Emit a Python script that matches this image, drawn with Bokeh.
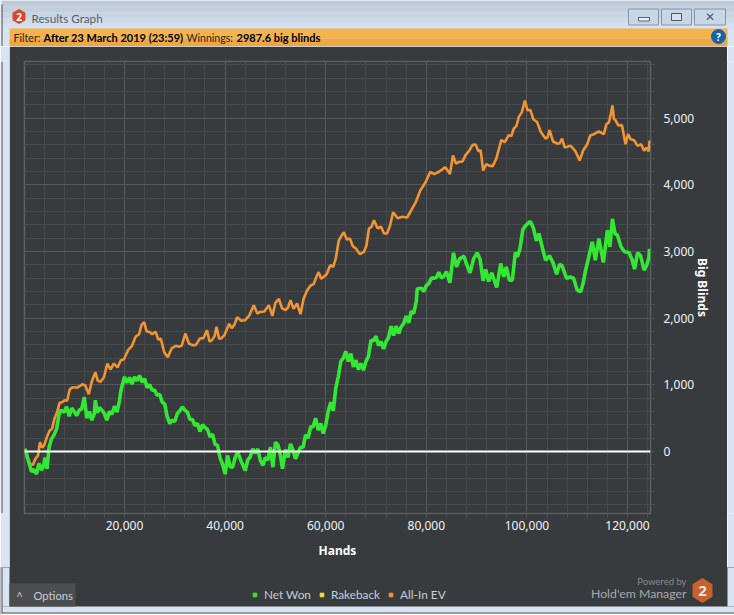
import numpy as np
from bokeh.plotting import figure
from bokeh.embed import file_html
from bokeh.resources import INLINE
from bokeh.layouts import column, row
from bokeh.core.properties import value
from bokeh.models import Span, Legend, LegendItem, NumeralTickFormatter, FixedTicker, Range1d

# ---- data ----
net_won_k = [0.2,0.6,1,1.5,2,2.5,3,3.5,3.9,4.2,4.6,5,5.5,6,6.5,7,7.4,8,8.5,9,9.5,10,10.5,11,11.5,12,12.5,13,13.5,14,14.2,14.6,15,15.5,16,16.5,17,17.5,18,18.5,19,19.3,20,20.5,21,21.5,22,22.5,23,23.5,24,24.5,25,25.5,26,26.5,27,27.5,28,28.5,29,29.4,30,30.5,31,31.5,32,32.5,33,33.5,34,34.5,35,35.5,36,36.5,37,37.5,38,38.5,39,39.5,40,40.5,41,41.5,42,42.5,43,43.5,44,44.5,45,45.5,46,46.5,47,47.5,48,48.5,49,49.5,50,50.5,51,51.4,52,52.5,53,53.5,54,54.5,55,55.5,56,56.5,57,57.5,58,58.5,59,59.5,60,60.5,61,61.5,62,62.5,63,63.5,64,64.5,65,65.5,66,66.5,67,67.5,68,68.5,69,69.5,70,70.5,71,71.5,72,72.5,73,73.5,74,74.5,75,75.5,76,76.5,77,77.5,78,78.2,79,79.5,80,80.5,81,81.5,82,82.5,83,83.5,84,84.7,85.4,86,86.6,87.5,88,88.7,89.4,90.1,90.7,91.3,91.8,92.4,93,94,94.8,95.4,95.9,96.5,97.1,97.7,98.1,98.6,99.2,99.7,100.2,100.7,101.3,101.9,102.4,102.9,103.7,104.5,105.2,105.9,106.5,107,107.9,108.6,109.3,110,110.7,111.2,111.6,112.3,113,113.6,114.3,115.2,116,116.5,117,117.5,118,118.7,119.4,120.3,120.9,121.4,122,122.6,123.3,123.8,124.2,124.4]
net_won_values = [40,-60,-170,-300,-270,-340,-180,-280,-210,-90,-260,60,190,250,340,560,620,590,670,530,650,600,540,620,640,815,500,600,470,570,770,580,660,620,570,470,600,560,680,590,760,920,1120,1030,1110,1010,1120,1060,1140,1040,1090,960,1000,920,920,840,860,740,710,520,420,470,450,570,610,670,620,590,480,480,390,420,300,400,360,330,220,260,110,90,-100,-190,-340,-60,-230,-235,-90,-10,-110,-200,-285,-130,-80,40,-30,40,-130,-210,-90,-130,65,-235,140,100,-60,-260,30,-90,115,20,-110,-20,65,60,250,200,370,370,500,320,420,270,390,600,740,610,950,1120,1350,1400,1500,1350,1470,1270,1370,1230,1320,1220,1350,1430,1670,1660,1730,1590,1650,1540,1650,1710,1880,1740,1880,1770,1870,1920,2030,1930,2100,2070,2250,2440,2450,2400,2490,2520,2600,2600,2610,2690,2600,2630,2700,2530,2980,2770,2890,2930,2810,2680,2890,2980,2880,2560,2730,2550,2680,2460,2820,2620,2770,2570,2570,2985,2920,3035,3330,3385,3420,3450,3350,3160,3270,3110,2870,2935,2830,2660,2810,2785,2595,2620,2595,2420,2395,2530,2695,2920,3145,2870,3195,2835,3320,3070,3490,3270,3245,3070,2995,2985,2880,2735,2980,2935,2720,2790,2895,3040]

all_in_ev_k = [0.2,0.6,1.3,1.8,2.3,2.8,3.2,3.6,4,4.6,5.1,5.6,6.1,6.6,7.1,7.6,8.1,8.6,9.1,9.6,10.1,10.6,11.1,11.6,12.2,12.9,13.5,14.2,14.7,15.2,15.9,16.6,17.2,17.9,18.6,19.3,19.9,20.7,21.5,22.2,22.9,23.4,23.9,24.4,24.9,25.5,26.2,26.7,27.2,27.9,28.6,29.4,30.2,30.8,31.4,32.1,32.8,33.5,34.2,35,35.7,36.4,36.9,37.4,37.9,38.3,38.8,39.2,39.9,40.8,41.3,41.8,42.4,43.2,44,44.8,45.7,46.4,47,47.8,48.7,49.4,50,50.7,51.3,52,52.5,53,53.6,54.3,55,55.6,56.3,57,57.6,58.1,58.6,59.1,59.6,60.2,60.9,61.5,62,62.6,63.1,63.6,64.2,64.8,65.4,66,66.8,67.6,68.1,68.6,69.1,69.6,70.3,71,71.6,72.2,72.8,73.4,74.3,75.2,76.2,77.2,77.9,78.8,79.8,80.8,81.6,82.6,83.8,84.7,85.3,85.9,86.5,87.2,87.8,88.5,89.2,89.8,90.4,90.8,91.3,91.9,92.6,93.2,93.9,94.9,95.6,96.4,96.9,97.4,97.9,98.4,99,99.6,100.1,100.7,101.3,102,102.8,103.7,104.1,104.5,105.2,106,106.5,107,107.5,108,108.7,109.6,110.5,111.2,112,112.6,113.3,114.3,115.3,115.8,116.3,116.7,117,117.3,117.6,118.2,118.9,119.6,120.1,120.6,121.3,122,122.7,123.3,123.8,124.2,124.4]
all_in_ev_values = [40,-80,-190,-200,-110,-60,140,60,90,220,310,340,500,590,730,740,770,760,930,960,960,960,980,1010,990,860,1050,1190,1060,1045,1110,1320,1230,1320,1260,1370,1385,1520,1585,1720,1760,1900,1940,1800,1795,1760,1795,1680,1695,1490,1415,1550,1585,1570,1590,1770,1620,1595,1600,1695,1700,1820,1650,1670,1730,1870,1690,1695,1750,1915,1850,1895,2015,1960,1970,2040,2195,2070,2095,2100,2195,2035,2230,2290,2150,2120,2160,2270,2140,2220,2060,2290,2415,2490,2510,2610,2690,2590,2620,2660,2795,2770,2895,3165,3230,3290,3180,3195,3080,3045,2960,2995,3090,3345,3370,3470,3350,3370,3270,3270,3390,3590,3500,3520,3510,3645,3740,3915,4030,4195,4160,4200,4265,4160,4440,4320,4345,4350,4445,4510,4600,4605,4500,4520,4215,4310,4285,4280,4390,4670,4640,4745,4730,4845,4880,5020,5090,5265,5120,5120,4980,4945,4790,4695,4710,4820,4650,4620,4620,4695,4560,4570,4585,4510,4365,4520,4610,4740,4760,4800,4760,4910,4935,5070,5190,4990,4970,4890,4895,4610,4760,4685,4670,4585,4610,4510,4560,4500,4665]

assert len(net_won_k) == len(net_won_values), (len(net_won_k), len(net_won_values))
assert len(all_in_ev_k) == len(all_in_ev_values), (len(all_in_ev_k), len(all_in_ev_values))

x_ticks = [20000, 40000, 60000, 80000, 100000, 120000]
y_ticks = [0, 1000, 2000, 3000, 4000, 5000]
x_minor = list(range(4000, 125000, 4000))
y_minor = list(range(-800, 5850, 200))
legend_names = ["Net Won", "Rakeback", "All-In EV"]
legend_colors = ["#33e833", "#f5e23a", "#f29432"]
FONT = "Noto Sans"
UI = "Lato"
PANEL = "#383b3e"
LIGHT = "#d8e4f1"
SPLIT = 570
OVER = 3

# ---- main chart: page x 9..727, y 46..SPLIT ----
p = figure(width=718, height=SPLIT - 46, output_backend="svg", toolbar_location=None,
           x_range=Range1d(120, 124570), y_range=Range1d(-930, 5850),
           y_axis_location="right", x_axis_location="below",
           min_border_left=15, min_border_right=77, min_border_top=15, min_border_bottom=SPLIT - 513)
p.border_fill_color = PANEL
p.background_fill_color = PANEL
p.outline_line_color = "#5c5f62"
p.outline_line_width = 1.5

for ax, ticks, minor, label in ((p.xaxis[0], x_ticks, x_minor, "Hands"), (p.yaxis[0], y_ticks, y_minor, "Big Blinds")):
    ax.ticker = FixedTicker(ticks=ticks, minor_ticks=minor)
    ax.formatter = NumeralTickFormatter(format="0,0")
    ax.axis_line_color = None
    ax.major_tick_line_color = "#5c5f62"
    ax.minor_tick_line_color = "#4c4f52"
    ax.major_tick_in = 0
    ax.major_tick_out = 4
    ax.minor_tick_in = 0
    ax.minor_tick_out = 4
    ax.major_label_text_color = "#f0f3f6"
    ax.major_label_text_font = FONT
    ax.major_label_text_font_size = "12px"
    ax.axis_label = label
    ax.axis_label_text_color = "#ffffff"
    ax.axis_label_text_font = FONT
    ax.axis_label_text_font_style = "bold"
    ax.axis_label_text_font_size = "12px"
p.xaxis[0].major_label_standoff = 3
p.xaxis[0].axis_label_standoff = 9
p.yaxis[0].major_label_standoff = 9
p.yaxis[0].axis_label_standoff = -3
p.xgrid[0].ticker = p.xaxis[0].ticker
p.ygrid[0].ticker = p.yaxis[0].ticker
for g in (p.xgrid[0], p.ygrid[0]):
    g.grid_line_color = "#55585b"
    g.grid_line_width = 1.2
    g.minor_grid_line_color = "#46494c"
    g.minor_grid_line_width = 1

p.line(np.array(all_in_ev_k) * 1000, all_in_ev_values, line_color=legend_colors[2], line_width=2.6, line_join="bevel")
p.line(np.array(net_won_k) * 1000, net_won_values, line_color=legend_colors[0], line_width=3.6, line_join="bevel")
p.add_layout(Span(location=0, dimension="width", line_color="#ffffff", line_width=2.2))

# ---- helpers for strips, coordinates are pixels inside the strip's own range ----
def strip(x0, x1, y0, y1, fill, **kw):
    s = figure(width=x1 - x0, height=y1 - y0, output_backend="svg", toolbar_location=None,
               x_range=Range1d(x0, x1), y_range=Range1d(y1, y0), x_axis_type=None, y_axis_type=None,
               min_border=0, min_border_left=0, min_border_right=0, min_border_top=0, min_border_bottom=0, **kw)
    s.grid.visible = False
    s.outline_line_color = None
    s.border_fill_color = fill
    s.background_fill_color = fill
    return s

def box(s, l, r, t, b, fill, line=None):
    s.quad(left=[l], right=[r], top=[t], bottom=[b], fill_color=fill, line_color=line)

def hexagon(s, cx, cy, rx, ry, fill):
    a = np.linspace(0, 2 * np.pi, 6, endpoint=False) + np.pi / 6
    s.patch(cx + rx * np.cos(a), cy + ry * np.sin(a), fill_color=fill, line_color=None)

def text(s, x, y, t, size=12, color="#c6ced6", style="normal", align="left", font=UI):
    s.text([x], [y], text=[t], text_font=value(font), text_font_size=f"{size}px", text_color=color,
           text_font_style=style, text_align=align, text_baseline="middle")

# ---- top strip ----
top = strip(0, 734, 0, 46, LIGHT)
for y, c in ((0, "#bfcbd8"), (6, "#c3cfdc"), (12, "#c9d5e2"), (18, "#cfdbe8"), (23, "#d5e1ee")):
    box(top, 0, 734, y, y + 6, c)
box(top, 0, 9, 28, 46, LIGHT)
box(top, 727, 734, 28, 46, LIGHT)
box(top, 0, 1, 0, 46, "#ffffff")
box(top, 1, 2, 4, 46, "#4a4a4a")
box(top, 9, 727, 28, 38, "#f6b24d")
box(top, 9, 727, 38, 46, "#efa83f")
for l, r in ((628, 658), (661, 691), (694, 725)):
    box(top, l, r, 8.5, 24.5, "#c9d6e6", "#8493b0")
box(top, 638, 649, 17, 20.5, "#e9eef4", "#5a6478")
box(top, 671, 681, 13, 20, "#d6dfea", "#4e5868")
text(top, 709.5, 16.5, "✕", 12, "#4e5868", "bold", "center", "DejaVu Sans")
hexagon(top, 18.5, 16, 7.5, 7.5, "#d9482b")
text(top, 18.5, 16, "2", 10, "#ffffff", "bold", "center", FONT)
text(top, 31, 17, "Results Graph", 11.7, "#4f6073")
text(top, 13, 37, "Filter:", 10.6, "#2a2410")
text(top, 43, 37, "After 23 March 2019 (23:59)", 11, "#000000", "bold")
text(top, 186, 37, "Winnings:", 10.6, "#2a2410")
text(top, 236, 37, "2987.6 big blinds", 11, "#000000", "bold")
top.scatter([718], [36], marker="circle", size=14, color="#1564a8")
text(top, 718, 36, "?", 10, "#ffffff", "bold", "center", FONT)

# ---- side strips ----
left = strip(0, 9, 46, SPLIT, LIGHT)
box(left, 0, 1, 46, SPLIT, "#ffffff")
box(left, 1, 2, 46, SPLIT, "#4a4a4a")
right = strip(727, 734, 46, SPLIT, LIGHT)

# ---- bottom strip: legend, options, badge (overlaps the row above by OVER px) ----
bot = strip(0, 734, SPLIT - OVER, 615, PANEL, margin=(-OVER, 0, 0, 0))
box(bot, 0, 734, 606, 615, LIGHT)
box(bot, 0, 9, SPLIT - OVER, 606, LIGHT)
box(bot, 727, 734, SPLIT - OVER, 606, LIGHT)
box(bot, 0, 1, SPLIT - OVER, 615, "#ffffff")
box(bot, 1, 2, SPLIT - OVER, 613, "#4a4a4a")
box(bot, 0, 734, 613, 615, "#ffffff")
box(bot, 1, 734, 612, 613, "#4a4a4a")
box(bot, 9, 75, 583, 606, "#4c4d4f")
text(bot, 19, 595, "^", 10, "#d4d8dc", "normal", "center", FONT)
text(bot, 33, 595, "Options", 11.2, "#c6ced6")
text(bot, 686, 581, "Powered by", 9.5, "#84888c", "normal", "right")
text(bot, 686, 593, "Hold'em Manager", 12.3, "#a6aaae", "normal", "right")
hexagon(bot, 702, 590, 11.5, 12.5, "#c8622c")
text(bot, 702, 590, "2", 15, "#e8e8e8", "bold", "center", FONT)
items = []
for name, c in zip(legend_names, legend_colors):
    r = bot.scatter([float("nan")], [float("nan")], marker="square", size=7, color=c)
    items.append(LegendItem(label=name, renderers=[r], index=0))
leg = Legend(items=items, orientation="horizontal", location=(250, 13), background_fill_alpha=0,
             border_line_color=None, label_text_color="#c6ced6", label_text_font=UI,
             label_text_font_size="11.8px", glyph_width=9, glyph_height=9, spacing=6, label_standoff=5,
             padding=0, margin=0)
bot.add_layout(leg, "center")

page = column(top, row(left, p, right), bot, spacing=0)
open("out.html", "w").write(file_html(page, INLINE))
